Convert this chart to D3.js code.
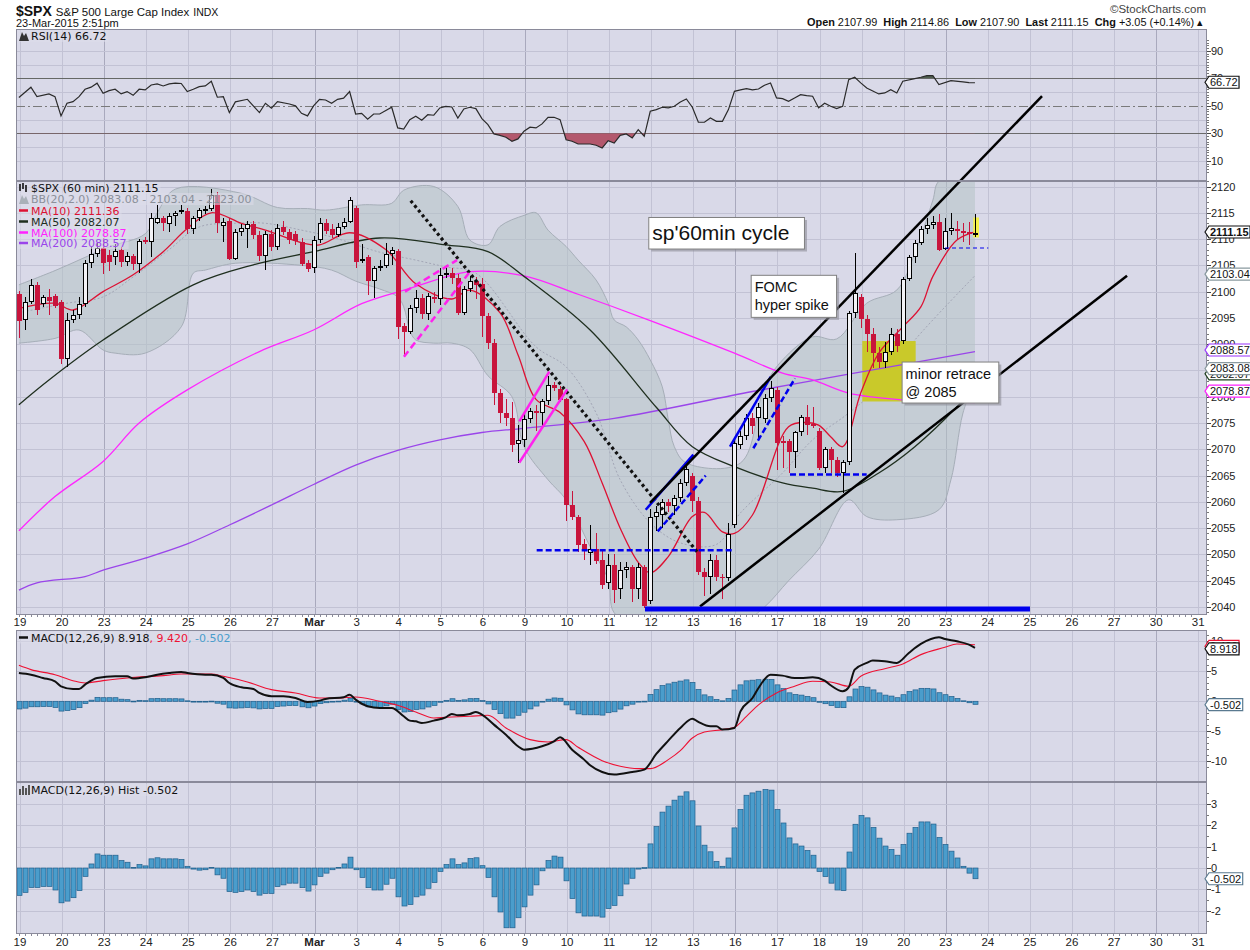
<!DOCTYPE html>
<html>
<head>
<meta charset="utf-8">
<title>$SPX 60 min</title>
<script src="https://cdnjs.cloudflare.com/ajax/libs/d3/7.8.5/d3.min.js"></script>
<style>
body { margin:0; background:#fff; }
svg { display:block; }
</style>
</head>
<body>
<svg id="chart" width="1250" height="950" font-family="DejaVu Sans, Verdana, sans-serif"></svg>
<script>
// ---------------- data ----------------
var dayLabels = ["19","20","23","24","25","26","27","Mar","3","4","5","6","9","10","11","12","13","16","17","18","19","20","23","24","25","26","27","30","31"];
var weekStarts = [2,7,12,17,22,27];
var priceTicks = [2040,2045,2050,2055,2060,2065,2070,2075,2080,2085,2090,2095,2100,2105,2110,2115,2120];
var rsiTicks = [90,70,50,30,10];
var macdTicks = [10,5,0,-5,-10];
var histTicks = [3,2,1,0,-1,-2];

// hourly bars [open, high, low, close]
var candles = [
 // Feb 19
 [2099.6,2100.2,2091.2,2094.5],[2094.6,2099.0,2092.7,2098.1],[2098.1,2102.4,2097.6,2101.3],[2101.3,2101.8,2095.6,2096.5],
 [2097.6,2099.3,2097.0,2098.9],[2099.0,2100.5,2095.5,2098.2],[2099.2,2099.6,2096.8,2097.3],
 // Feb 20
 [2098.1,2098.5,2086.2,2087.1],[2087.2,2095.9,2085.7,2094.6],[2094.6,2096.5,2094.0,2095.6],[2095.6,2099.0,2094.8,2097.6],
 [2097.6,2106.0,2097.0,2105.4],[2105.4,2108.5,2104.5,2107.2],[2107.2,2109.3,2106.5,2108.3],
 // Feb 23
 [2108.3,2110.2,2103.4,2105.5],[2107.0,2108.0,2104.0,2105.6],[2106.5,2109.0,2105.0,2107.8],[2108.0,2108.5,2104.7,2105.7],
 [2105.7,2107.5,2104.8,2106.8],[2106.8,2107.2,2104.1,2105.3],[2105.3,2110.0,2103.5,2109.7],
 // Feb 24
 [2109.9,2110.3,2109.0,2109.5],[2109.5,2115.0,2106.5,2114.0],[2113.0,2116.5,2112.8,2114.0],[2114.0,2114.3,2111.5,2113.0],
 [2112.8,2115.0,2111.3,2114.4],[2114.4,2115.3,2112.5,2115.0],[2115.2,2116.5,2114.8,2115.5],
 // Feb 25
 [2115.4,2116.0,2111.0,2112.0],[2112.0,2114.3,2111.0,2114.0],[2114.0,2116.0,2113.5,2115.5],[2115.3,2116.3,2114.8,2115.8],
 [2115.8,2119.5,2115.3,2118.4],[2118.4,2119.0,2111.1,2113.0],[2112.5,2114.0,2109.5,2113.3],
 // Feb 26
 [2113.5,2114.0,2106.0,2106.3],[2106.3,2112.0,2106.0,2111.4],[2111.4,2112.8,2110.5,2112.1],[2112.0,2113.5,2108.3,2112.9],
 [2112.8,2113.5,2110.0,2110.8],[2110.8,2111.5,2105.8,2106.8],[2106.8,2111.5,2104.1,2111.0],
 // Feb 27
 [2111.0,2111.8,2107.8,2108.5],[2108.5,2112.8,2108.0,2112.1],[2112.3,2113.5,2110.8,2111.3],[2111.3,2112.0,2109.0,2109.8],
 [2111.0,2111.5,2108.8,2109.6],[2109.5,2110.2,2104.8,2105.3],[2105.5,2106.0,2103.8,2104.3],
 // Mar 2
 [2104.5,2110.5,2103.5,2109.8],[2109.8,2114.0,2109.2,2113.0],[2113.0,2113.8,2111.0,2111.5],[2112.0,2112.8,2110.2,2110.8],
 [2110.8,2113.0,2110.3,2112.3],[2112.3,2114.0,2112.0,2113.2],[2113.2,2118.0,2113.0,2117.4],
 // Mar 3
 [2115.9,2116.3,2104.5,2105.7],[2106.0,2109.0,2105.5,2106.2],[2106.5,2107.0,2099.4,2102.1],[2102.1,2104.8,2098.7,2104.4],
 [2104.4,2106.0,2104.0,2104.8],[2104.8,2109.2,2104.5,2107.2],[2107.2,2108.5,2105.0,2107.9],
 // Mar 4
 [2107.8,2108.2,2091.0,2093.2],[2093.5,2094.0,2087.6,2092.4],[2092.4,2097.5,2092.0,2096.8],[2096.8,2100.3,2096.0,2098.7],
 [2098.7,2099.5,2094.8,2095.8],[2095.8,2099.8,2094.6,2099.2],[2099.0,2100.0,2097.8,2098.6],
 // Mar 5
 [2098.6,2104.4,2097.5,2103.2],[2103.2,2105.0,2102.5,2103.6],[2103.6,2104.5,2101.5,2102.5],[2102.5,2103.4,2095.5,2096.0],
 [2096.0,2101.0,2095.5,2100.5],[2100.5,2103.0,2100.0,2102.1],[2102.1,2102.8,2098.6,2101.2],
 // Mar 6
 [2101.5,2102.5,2091.4,2095.3],[2095.3,2096.0,2089.0,2090.2],[2090.2,2091.0,2078.5,2080.7],[2080.7,2081.5,2075.0,2076.9],
 [2077.0,2079.5,2074.5,2076.0],[2076.0,2079.0,2069.4,2070.9],[2071.0,2074.6,2067.4,2071.8],
 // Mar 9
 [2071.8,2076.8,2070.5,2075.7],[2075.7,2077.8,2075.0,2077.3],[2077.3,2078.5,2073.5,2076.9],[2076.9,2079.5,2074.0,2079.1],
 [2079.1,2084.0,2078.5,2082.3],[2082.3,2082.8,2081.0,2081.6],[2081.5,2082.0,2079.0,2079.4],
 // Mar 10
 [2079.5,2079.8,2056.3,2059.5],[2059.5,2062.0,2056.5,2057.2],[2057.2,2057.5,2050.5,2051.8],[2052.0,2053.0,2049.0,2050.6],
 [2050.3,2055.6,2048.0,2051.0],[2051.0,2054.0,2048.2,2048.7],[2048.9,2051.0,2043.5,2044.1],
 // Mar 11
 [2044.6,2050.0,2043.5,2048.0],[2048.0,2050.0,2040.8,2043.3],[2043.4,2048.5,2041.5,2047.1],[2047.0,2048.5,2045.5,2047.6],
 [2047.6,2048.0,2041.0,2043.5],[2043.4,2048.3,2041.5,2047.6],[2047.6,2048.0,2039.8,2040.1],
 // Mar 12
 [2041.1,2058.7,2040.5,2057.2],[2057.2,2059.2,2054.5,2058.0],[2057.5,2060.5,2055.0,2059.9],[2059.9,2060.5,2058.0,2059.2],
 [2059.2,2061.3,2057.5,2060.7],[2060.7,2064.3,2060.0,2063.6],[2063.6,2067.0,2063.0,2066.2],
 // Mar 13
 [2065.0,2065.5,2058.0,2060.1],[2060.1,2061.0,2046.0,2046.6],[2046.6,2047.5,2042.0,2045.7],[2045.7,2050.0,2042.5,2049.0],
 [2049.0,2049.8,2045.0,2045.7],[2045.8,2046.2,2041.5,2045.5],[2045.5,2056.0,2045.0,2053.8],
 // Mar 16
 [2055.6,2072.0,2055.0,2071.2],[2070.9,2073.5,2070.0,2072.6],[2072.6,2076.8,2071.8,2075.9],[2075.9,2077.0,2073.0,2074.5],
 [2075.9,2078.8,2072.0,2078.1],[2075.7,2080.5,2075.0,2079.7],[2079.7,2083.0,2079.0,2081.6],
 // Mar 17
 [2081.2,2081.8,2066.0,2071.2],[2071.5,2072.5,2066.5,2071.2],[2071.5,2072.0,2065.5,2069.4],[2069.4,2073.5,2066.5,2073.2],
 [2073.2,2076.5,2072.5,2076.1],[2076.1,2078.5,2072.8,2074.6],[2074.8,2078.0,2074.0,2074.4],
 // Mar 18
 [2073.4,2074.0,2066.0,2066.4],[2066.4,2070.5,2065.5,2070.0],[2070.0,2070.5,2065.5,2068.0],[2068.0,2068.5,2064.8,2065.5],
 [2065.5,2068.0,2061.7,2067.5],[2067.5,2096.3,2067.0,2095.9],[2095.9,2107.3,2095.0,2099.7],
 // Mar 19
 [2099.0,2099.5,2093.0,2094.8],[2094.8,2095.5,2088.5,2092.0],[2092.0,2093.0,2085.5,2088.3],[2088.3,2089.5,2085.5,2086.6],
 [2086.6,2090.5,2085.5,2088.6],[2088.6,2093.0,2088.0,2092.0],[2092.0,2092.8,2088.5,2089.6],
 // Mar 20
 [2090.7,2102.8,2090.0,2102.4],[2102.4,2107.0,2102.0,2106.5],[2106.5,2109.8,2105.5,2109.2],[2109.2,2112.5,2108.8,2111.9],
 [2111.9,2114.0,2111.0,2112.7],[2112.7,2114.3,2112.0,2113.3],[2113.3,2114.8,2107.8,2108.0],
 // Mar 23
 [2108.1,2114.0,2107.9,2111.6],[2111.6,2115.0,2110.8,2112.1],[2112.0,2113.5,2109.8,2111.6],[2111.6,2113.0,2109.5,2111.2],
 [2111.4,2113.2,2108.8,2110.9],[2110.9,2114.86,2110.3,2111.15]
];

// overlays: [bar, value]
var ma10 = [[0,2096.8],[6,2097.8],[9,2096.5],[14,2100],[19,2103.2],[24,2107.6],[28,2112],[32,2115],[37,2113],[41,2111.7],[47,2109.3],[50,2108.9],[55,2111.2],[61,2108],[66,2101.5],[72,2098.6],[75,2100.3],[80,2096],[83,2088],[86,2079.5],[90,2077],[94,2071.5],[97,2063.6],[100,2055],[103,2048.5],[105,2046.5],[108,2049.6],[112,2057.2],[114,2058],[117,2054.3],[119,2054],[122,2057.5],[128,2074.3],[131,2075.1],[133,2074.6],[135,2072.4],[137,2070.5],[140,2080.7],[143,2088.3],[147,2093.3],[150,2097.1],[152,2102.9],[156,2109.8],[159,2111.36]];
var ma50 = [[0,2078.5],[5,2083.2],[14,2090.8],[29,2101.3],[39,2105.1],[49,2107.6],[60,2110.2],[71,2108.9],[78,2107.6],[84,2102.9],[95,2092.7],[106,2078],[112,2070.5],[119,2066.7],[127,2063.6],[132,2062.6],[137,2062],[143,2065.5],[149,2070.5],[156,2078.1],[159,2082.07]];
var ma100 = [[0,2054.5],[6,2061],[14,2067.7],[20,2075],[28,2081.3],[40,2088.6],[49,2092.7],[57,2097.7],[65,2100.6],[75,2103.8],[84,2103],[93,2099.5],[105,2094.5],[119,2088.3],[127,2084.5],[132,2083.2],[138,2080.7],[147,2079.4],[159,2078.87]];
var ma200 = [[0,2043.2],[3,2044.6],[11,2045.8],[14,2047],[21,2049.3],[28,2052],[35,2055.6],[42,2059.4],[49,2063.3],[56,2067],[63,2069.8],[70,2071.8],[77,2073.2],[84,2074],[99,2075.9],[122,2081],[138,2084.3],[159,2088.57]];
var bbUpper = [[0,2101.3],[6,2104],[15,2108.5],[21,2111],[23,2115],[26,2119.5],[37,2118.7],[43,2116],[48,2115.8],[51,2115.5],[57,2116.5],[62,2116.8],[64,2119.3],[69,2120],[73,2116.2],[75,2109.8],[78,2108.9],[80,2112.4],[84,2114.5],[86,2115],[88,2111.7],[91,2108.6],[93,2106],[96,2102.2],[98,2097.8],[99,2094.6],[101,2093.3],[103,2090.8],[105,2087],[107,2081.9],[108,2075.6],[109,2070.5],[111,2067.4],[120,2067.4],[124,2081.9],[127,2087],[132,2091.4],[136,2091],[141,2097.8],[146,2100.3],[149,2107.3],[152,2117.4],[153,2121],[159,2123]];
var bbLower = [[0,2090.2],[6,2091.1],[10,2092.7],[14,2088.9],[16,2088.3],[21,2088.3],[27,2093.3],[29,2103.5],[31,2104.1],[36,2105.4],[47,2105],[52,2104.1],[56,2102],[60,2100.5],[63,2099],[64,2097.1],[65,2092.7],[66,2090.8],[69,2090.2],[72,2090.2],[75,2089],[78,2084],[82,2080],[84,2070.5],[88,2064.2],[91,2060.4],[95,2051.5],[98,2045.2],[99,2038.9],[104,2036],[112,2035],[119,2036],[124,2040],[128,2045],[133,2051],[138,2060.4],[141,2057.2],[146,2056.6],[153,2058.5],[155,2064.2],[157,2076.9],[159,2083.08]];
var bbMid = [[0,2096],[8,2097.8],[14,2099],[19,2102.8],[25,2108],[30,2112.3],[36,2113],[41,2113],[47,2111.7],[52,2110.4],[60,2107.5],[66,2106],[71,2104.7],[76,2103.5],[86,2089.5],[91,2085.7],[96,2076.9],[100,2064.2],[105,2056],[110,2052.2],[116,2051.9],[120,2057.9],[127,2065.5],[132,2071.8],[138,2076.9],[143,2081.9],[149,2090.8],[159,2103.04]];

// RSI(14) [bar, value]
var rsi = [[0,56],[2,63.5],[3,56.6],[5,58.6],[6,56.6],[7,42.6],[8,51.8],[9,53],[10,56.6],[11,62],[12,63.5],[13,66.4],[14,59.1],[15,61],[16,62],[17,58.6],[18,60.3],[19,57.6],[20,62],[21,61.5],[22,65.1],[23,65.9],[24,64.4],[25,65.9],[26,66.4],[27,66.2],[28,60.3],[29,62],[30,63.9],[31,64.4],[32,67.8],[33,56.2],[34,56.6],[35,45],[36,52.8],[38,54.7],[40,45],[41,51.8],[42,48.2],[43,53],[45,51.3],[46,49.9],[47,44.5],[48,42.6],[49,49.9],[50,54.7],[51,54.2],[52,51.8],[53,54.7],[54,55.5],[55,60.3],[56,44],[57,44.5],[58,40.2],[59,44],[60,44],[62,48.9],[63,33.9],[64,33.1],[65,39.9],[66,42.4],[67,39.5],[68,43.5],[69,43.1],[70,48.4],[71,49.6],[72,49.1],[73,41.1],[74,47.7],[75,48.9],[76,47.9],[77,40.6],[78,36.3],[79,29.5],[80,28.5],[81,27.1],[82,24.2],[83,25.9],[84,31.5],[85,34.4],[86,33.9],[87,36.8],[88,41.6],[89,41.6],[90,39.9],[91,25.3],[92,24.2],[93,22.2],[94,22.2],[95,22.2],[96,21.3],[97,19.3],[98,24.6],[99,22.9],[100,28.5],[101,29.5],[102,26.6],[103,32.6],[104,27.8],[105,46],[106,47.2],[107,48.9],[108,48.4],[109,49.6],[110,52.8],[111,54.9],[112,48.9],[113,38],[114,38],[115,41.1],[116,38.7],[117,38.7],[118,47.2],[119,60.5],[120,61.5],[121,62.4],[122,61.5],[123,62.2],[124,64.9],[125,66.6],[126,55.7],[127,55.2],[128,53.3],[129,55.7],[130,58.1],[131,57.3],[132,56.9],[133,48.4],[134,51.8],[135,49.6],[136,47.9],[137,49.6],[138,69],[139,70.7],[140,66.6],[141,62.9],[143,58.6],[144,59.3],[145,61.7],[146,59.3],[147,67.8],[149,69.7],[150,70.7],[151,71.9],[152,71.9],[153,65.4],[155,68.3],[157,67.3],[158,66.8],[159,66.72]];

// MACD(12,26,9) line and signal [bar, value]
var macdLine = [[0,4.72],[2,4.44],[4,3.89],[6,3.33],[7,2.5],[9,2.05],[10,2.05],[11,2.78],[13,3.89],[16,4.17],[18,4.17],[19,3.78],[21,4.0],[23,4.44],[25,4.72],[27,4.89],[28,4.72],[31,4.44],[32,4.44],[34,3.89],[35,3.05],[37,2.33],[39,2.05],[40,1.39],[42,0.83],[44,0.83],[46,0.55],[48,-0.11],[50,0.11],[51,0.39],[54,0.67],[55,1.11],[56,0.28],[58,-0.83],[60,-1.11],[62,-1.11],[64,-2.5],[65,-3.22],[66,-3.33],[67,-3.61],[69,-3.22],[71,-2.67],[72,-2.11],[73,-2.33],[75,-2.11],[76,-1.78],[77,-2.22],[79,-3.89],[81,-5.56],[83,-7.5],[84,-8.06],[87,-7.5],[89,-6.67],[90,-6.0],[92,-8.06],[94,-9.72],[95,-10.67],[97,-11.78],[99,-12.22],[102,-11.78],[104,-11.39],[106,-8.78],[108,-6.56],[110,-4.44],[112,-2.89],[113,-3.44],[115,-4.17],[116,-4.17],[117,-4.72],[119,-4.44],[120,-1.67],[122,0.55],[123,2.22],[125,4.44],[127,4.28],[129,3.89],[130,3.89],[132,4.0],[134,3.44],[135,2.67],[137,1.67],[138,2.33],[139,5.28],[141,6.39],[142,6.78],[144,6.67],[146,6.39],[148,8.06],[150,9.56],[153,10.67],[154,10.39],[156,10.0],[158,9.44],[159,8.918]];
var macdSignal = [[0,6.0],[2,5.28],[6,4.44],[9,3.44],[11,3.05],[14,3.44],[18,3.89],[24,4.28],[27,4.55],[32,4.55],[34,4.17],[38,3.22],[42,1.94],[46,1.39],[50,0.55],[53,0.55],[56,0.72],[60,0],[63,-0.67],[66,-1.78],[69,-2.78],[71,-2.67],[75,-2.5],[78,-2.33],[81,-4.44],[85,-6.39],[88,-6.78],[91,-6.39],[93,-7.67],[97,-9.89],[100,-10.83],[103,-11.22],[105,-11.22],[108,-9.72],[110,-8.22],[112,-6.11],[114,-5.11],[117,-4.72],[119,-4.33],[121,-2.5],[123,-0.6],[126,1.39],[129,2.5],[132,3.33],[135,3.22],[138,2.5],[140,4.17],[144,5.44],[147,6.22],[150,7.78],[154,9.0],[156,9.56],[159,9.42]];
// MACD histogram, one value per bar
var macdHist = [
 -1.28,-1.14,-0.91,-0.91,-0.86,-0.86,-1.03,
 -1.63,-1.55,-1.39,-1.06,-0.39,0.19,0.66,
 0.6,0.6,0.6,0.35,0.27,0.03,0.16,
 0.1,0.43,0.48,0.43,0.43,0.43,0.4,
 0.08,-0.05,-0.1,-0.08,0.03,-0.32,-0.48,
 -1.1,-1.14,-1.1,-1.03,-1.1,-1.27,-1.19,
 -1.19,-0.87,-0.79,-0.71,-0.71,-0.92,-1.08,
 -0.79,-0.39,-0.24,-0.08,0.03,0.19,0.51,
 -0.08,-0.44,-0.92,-1.03,-1.03,-0.76,-0.48,
 -1.35,-1.78,-1.71,-1.35,-1.27,-0.95,-0.68,
 -0.16,0.16,0.43,0.16,0.24,0.44,0.48,
 0.11,-0.44,-1.35,-2.06,-2.8,-2.8,-2.33,
 -1.82,-1.27,-0.79,-0.13,0.35,0.56,0.51,
 -0.6,-1.43,-2.1,-2.25,-2.25,-2.25,-2.3,
 -1.9,-1.75,-1.3,-0.75,-0.48,-0.05,0.02,
 1.13,1.94,2.62,2.9,3.18,3.37,3.57,
 3.15,1.97,1.07,0.76,0.31,0.08,0.47,
 1.88,2.74,3.41,3.52,3.6,3.68,3.65,
 2.74,2.11,1.41,1.13,1.03,0.82,0.6,
 -0.16,-0.4,-0.71,-1.03,-1.06,0.75,2.05,
 2.46,2.35,1.9,1.4,1.03,0.87,0.6,
 1.1,1.63,1.9,2.16,2.16,2.06,1.43,
 1.1,0.79,0.47,0.08,-0.24,-0.502
];

// hand-drawn annotations in [bar, price] units
var trendSegments = [
 [65.16,2117.3,112.94,2050.3,"dots"],
 [64.21,2100.0,72.86,2106.0,"pinkDash"],
 [64.04,2087.6,75.02,2103.8,"pinkDash"],
 [83.22,2067.5,91.20,2081.4,"pink"],
 [83.22,2075.3,88.21,2084.8,"pink"],
 [86.11,2050.8,118.81,2050.8,"blueDash"],
 [104.24,2058.5,112.16,2069.0,"blue"],
 [106.24,2054.4,114.22,2065.0,"blueDash"],
 [113.27,2040.1,184.29,2103.0,"black"],
 [118.26,2070.5,125.03,2083.8,"blue"],
 [122.14,2070.2,129.07,2083.5,"blueDash"],
 [128.24,2065.2,140.99,2065.2,"blueDash"],
 [154.02,2108.3,161.22,2108.3,"blueThin"],
 [104.12,2039.6,168.15,2039.6,"blueThick"]
];
var channelTop = [104.96,2059.8,170.15,2137.2];
var retraceZone = [140.26,2090.6,149.14,2079.1];
var lastBarMark = [158.72,2114.1,159.67,2110.3];
var notes = [
 {lines:["sp'60min cycle"], b0:104.67, p0:2114.2, b1:130.56, p1:2108.2},
 {lines:["FOMC","hyper spike"], b0:121.7, p0:2103.2, b1:135.9, p1:2095.2},
 {lines:["minor retrace","@ 2085"], b0:146.8, p0:2086.7, b1:162.88, p1:2078.9}
];

// ---------------- layout ----------------
var svg = d3.select("#chart");
var defs = svg.append("defs");
var PL = 16, PR = 1207;
var P = {rsi:[29,181], main:[181,615], macd:[630,782], hist:[782,934]};
var axisFont = "Liberation Sans, Arial, sans-serif";

var x = d3.scaleLinear().domain([0,159]).range([18.9, 18.9 + 6.013*159]);
var xDay = d3.scaleLinear().domain([0,28]).range([20, 20 + 42.08*28]);
var yR = d3.scaleLinear().domain([0,100]).range([174.5,37]);
var yP = d3.scaleLinear().domain([2040,2120]).range([607,186.5]);
var yM = d3.scaleLinear().domain([-10,5]).range([761.3,671.3]);
var yH = d3.scaleLinear().domain([-2,3]).range([910.7,804]);

function clipRect(id, x0, y0, x1, y1){
  defs.append("clipPath").attr("id", id).append("rect")
    .attr("x", x0).attr("y", y0).attr("width", x1 - x0).attr("height", y1 - y0);
}

// panel backgrounds + grids
Object.keys(P).forEach(function(k){
  var t = P[k][0], b = P[k][1];
  clipRect("clip-" + k, PL, t, PR, b);
  svg.append("rect").attr("x",PL).attr("y",t).attr("width",PR-PL).attr("height",b-t).attr("fill","#d9d9e8");
  svg.append("g").attr("shape-rendering","crispEdges").selectAll("line").data(d3.range(0,29)).enter().append("line")
    .attr("x1", function(d){ return Math.round(xDay(d)) + 0.5; })
    .attr("x2", function(d){ return Math.round(xDay(d)) + 0.5; })
    .attr("y1", t).attr("y2", b)
    .attr("stroke", function(d){ return weekStarts.indexOf(d) >= 0 ? "#a9a9bd" : "#c2c2d4"; });
});

function hGrid(vals, ys, color, dash){
  svg.append("g").attr("shape-rendering","crispEdges").selectAll("line").data(vals).enter().append("line")
    .attr("x1",PL).attr("x2",PR)
    .attr("y1", function(d){ return Math.round(ys(d)) + 0.5; })
    .attr("y2", function(d){ return Math.round(ys(d)) + 0.5; })
    .attr("stroke", color).attr("stroke-dasharray", dash || null);
}
hGrid([10,20,40,60,80,90], yR, "#c2c2d4");
hGrid([70,30], yR, "#6a6a6a");
hGrid([50], yR, "#7a7a7a", "9,3,2,3");
hGrid(priceTicks, yP, "#c2c2d4");
hGrid(macdTicks, yM, "#c2c2d4");
hGrid(histTicks, yH, "#c2c2d4");

// ---------------- RSI panel ----------------
var rsiLine = d3.line().x(function(d){ return x(d[0]); }).y(function(d){ return yR(d[1]); });
clipRect("clip-rsiLow", PL, yR(30), PR, P.rsi[1]);
clipRect("clip-rsiHigh", PL, P.rsi[0], PR, yR(70));
svg.append("path").datum(rsi).attr("clip-path","url(#clip-rsiLow)")
  .attr("d", d3.area().x(function(d){ return x(d[0]); }).y0(yR(30)).y1(function(d){ return yR(d[1]); }))
  .attr("fill","#b3586d");
svg.append("path").datum(rsi).attr("clip-path","url(#clip-rsiHigh)")
  .attr("d", d3.area().x(function(d){ return x(d[0]); }).y0(yR(70)).y1(function(d){ return yR(d[1]); }))
  .attr("fill","#4f5f4f");
svg.append("path").datum(rsi).attr("d", rsiLine).attr("fill","none").attr("stroke","#2a2a2a").attr("stroke-width",1.2);

// ---------------- price panel ----------------
var mainG = svg.append("g").attr("clip-path","url(#clip-main)");
var curve = d3.curveCatmullRom.alpha(0.5);
function ovl(ys){ return d3.line().x(function(d){ return x(d[0]); }).y(function(d){ return ys(d[1]); }).curve(curve); }
var upPath = ovl(yP)(bbUpper);
var loPath = ovl(yP)(bbLower.slice().reverse());
mainG.append("path").attr("d", upPath + "L" + loPath.slice(1) + "Z").attr("fill","#b5c2c5").attr("fill-opacity",0.55);
mainG.append("path").attr("d", upPath).attr("fill","none").attr("stroke","#a6aeb8");
mainG.append("path").attr("d", ovl(yP)(bbLower)).attr("fill","none").attr("stroke","#a6aeb8");
mainG.append("path").attr("d", ovl(yP)(bbMid)).attr("fill","none").attr("stroke","#a3a6b6").attr("stroke-dasharray","2,2");

mainG.append("rect").attr("x", x(retraceZone[0])).attr("y", yP(retraceZone[1]))
  .attr("width", x(retraceZone[2]) - x(retraceZone[0])).attr("height", yP(retraceZone[3]) - yP(retraceZone[1]))
  .attr("fill","#c9c92a");

[[ma200,"#9a45ea"],[ma100,"#ff26ff"],[ma50,"#1f2f1f"],[ma10,"#dd1133"]].forEach(function(m){
  mainG.append("path").attr("d", ovl(yP)(m[0])).attr("fill","none").attr("stroke",m[1]).attr("stroke-width",1.3);
});

mainG.append("rect").attr("x", x(lastBarMark[0])).attr("y", yP(lastBarMark[1]))
  .attr("width", x(lastBarMark[2]) - x(lastBarMark[0])).attr("height", yP(lastBarMark[3]) - yP(lastBarMark[1]))
  .attr("fill","#f4f24a");

// candles
var candleG = mainG.append("g").attr("shape-rendering","crispEdges");
candleG.selectAll("g").data(candles).enter().append("g").each(function(d, i){
  var g = d3.select(this);
  var o = d[0], h = d[1], l = d[2], c = d[3];
  var up = c >= o;
  var cx = Math.round(x(i)) + 0.5;
  var top = Math.round(yP(Math.max(o,c))), bot = Math.round(yP(Math.min(o,c)));
  if (bot - top < 1) bot = top + 1;
  var col = up ? "#000" : "#c8143c";
  g.append("line").attr("x1",cx).attr("x2",cx).attr("y1",yP(h)).attr("y2",top).attr("stroke",col);
  g.append("line").attr("x1",cx).attr("x2",cx).attr("y1",bot).attr("y2",yP(l)).attr("stroke",col);
  if (up) {
    g.append("rect").attr("x",cx-2).attr("y",top+0.5).attr("width",4).attr("height",Math.max(bot-top-1,0.5))
      .attr("fill","#f2f2f6").attr("stroke","#000");
  } else {
    g.append("rect").attr("x",cx-2.5).attr("y",top).attr("width",5).attr("height",bot-top).attr("fill",col);
  }
});

// annotations
var segStyle = {
  dots:{c:"#111",w:3.2,d:"3,3"}, pinkDash:{c:"#ff22ee",w:2.5,d:"7,4"}, pink:{c:"#ff22ee",w:2.5,d:null},
  blueDash:{c:"#0000ee",w:2.5,d:"6,3"}, blue:{c:"#0000ee",w:2.5,d:null}, black:{c:"#000",w:2.5,d:null},
  blueThin:{c:"#0000ee",w:1.2,d:"4,3"}, blueThick:{c:"#0000ee",w:5,d:null}
};
mainG.selectAll(".seg").data(trendSegments).enter().append("line")
  .attr("x1", function(d){ return x(d[0]); }).attr("y1", function(d){ return yP(d[1]); })
  .attr("x2", function(d){ return x(d[2]); }).attr("y2", function(d){ return yP(d[3]); })
  .attr("stroke", function(d){ return segStyle[d[4]].c; })
  .attr("stroke-width", function(d){ return segStyle[d[4]].w; })
  .attr("stroke-dasharray", function(d){ return segStyle[d[4]].d; });
svg.append("line").attr("x1", x(channelTop[0])).attr("y1", yP(channelTop[1]))
  .attr("x2", x(channelTop[2])).attr("y2", yP(channelTop[3]))
  .attr("stroke","#000").attr("stroke-width",2.5);

// note boxes
var noteSize = [21, 14.5, 14.5];
notes.forEach(function(n, k){
  var bx = x(n.b0), by = yP(n.p0), bw = x(n.b1) - bx, bh = yP(n.p1) - by;
  svg.append("rect").attr("x",bx+3).attr("y",by+3).attr("width",bw).attr("height",bh).attr("fill","#8c8c96").attr("opacity",0.6);
  svg.append("rect").attr("x",bx+0.5).attr("y",by+0.5).attr("width",bw).attr("height",bh).attr("fill","#fff").attr("stroke","#808080");
  n.lines.forEach(function(t, j){
    svg.append("text").attr("x", bx + 4).attr("y", by + (k === 0 ? 23 : 17.5 + j*18))
      .attr("font-family",axisFont).attr("font-size", noteSize[k]).attr("fill","#111").text(t);
  });
});

// ---------------- MACD panel ----------------
var macdG = svg.append("g").attr("clip-path","url(#clip-macd)");
function histBars(g, ys){
  g.selectAll("rect").data(macdHist).enter().append("rect")
    .attr("x", function(d,i){ return Math.round(x(i)) - 2; })
    .attr("y", function(d){ return Math.min(ys(d), ys(0)); })
    .attr("width", 5)
    .attr("height", function(d){ return Math.max(Math.abs(ys(d) - ys(0)), 0.8); })
    .attr("fill","#4a9dcc").attr("stroke","#1f5d8a").attr("stroke-width",0.7);
}
histBars(macdG, yM);
function pl(ys){ return d3.line().x(function(d){ return x(d[0]); }).y(function(d){ return ys(d[1]); }).curve(d3.curveMonotoneX); }
macdG.append("path").datum(macdSignal).attr("d", pl(yM)).attr("fill","none").attr("stroke","#ee1133").attr("stroke-width",1.1);
macdG.append("path").datum(macdLine).attr("d", pl(yM)).attr("fill","none").attr("stroke","#111").attr("stroke-width",2);

var histG = svg.append("g").attr("clip-path","url(#clip-hist)");
histBars(histG, yH);

// ---------------- borders ----------------
var bord = svg.append("g").attr("shape-rendering","crispEdges").attr("fill","none").attr("stroke","#8a8a9a");
Object.keys(P).forEach(function(k){
  bord.append("rect").attr("x",PL+0.5).attr("y",P[k][0]+0.5).attr("width",PR-PL-1).attr("height",P[k][1]-P[k][0]-1);
});

// ---------------- axes ----------------
function rightAxis(vals, ys, minor){
  var g = svg.append("g").attr("shape-rendering","crispEdges");
  if (minor) {
    g.selectAll(".mn").data(minor).enter().append("line")
      .attr("x1",PR).attr("x2",PR+2).attr("y1",function(d){ return Math.round(ys(d))+0.5; }).attr("y2",function(d){ return Math.round(ys(d))+0.5; })
      .attr("stroke","#777");
  }
  g.selectAll(".mj").data(vals).enter().append("line")
    .attr("x1",PR).attr("x2",PR+4).attr("y1",function(d){ return Math.round(ys(d))+0.5; }).attr("y2",function(d){ return Math.round(ys(d))+0.5; })
    .attr("stroke","#444");
  svg.append("g").selectAll("text").data(vals).enter().append("text")
    .attr("x",PR+4).attr("y",function(d){ return ys(d) + 4; })
    .attr("font-family",axisFont).attr("font-size",11).attr("fill","#222").text(function(d){ return d; });
}
rightAxis(priceTicks, yP, d3.range(2039,2122,1));
rightAxis(rsiTicks, yR, d3.range(2,100,2));
rightAxis(macdTicks, yM, d3.range(-11,12,1));
rightAxis(histTicks, yH, d3.range(-2.5,3.6,0.5));

function dateAxis(yBase, yTick){
  var g = svg.append("g").attr("shape-rendering","crispEdges");
  g.selectAll("line").data(d3.range(0,196)).enter().append("line")
    .attr("x1",function(d){ return Math.round(x(d))+0.5; }).attr("x2",function(d){ return Math.round(x(d))+0.5; })
    .attr("y1",yTick).attr("y2",yTick+2).attr("stroke","#8a8a9a");
  svg.append("g").selectAll("text").data(dayLabels).enter().append("text")
    .attr("x",function(d,i){ return xDay(i); }).attr("y",yBase)
    .attr("text-anchor","middle").attr("font-family",axisFont).attr("font-size",11.5)
    .attr("font-weight",function(d){ return d === "Mar" ? "bold" : null; })
    .attr("fill","#222").text(function(d){ return d; });
}
dateAxis(626, P.main[1]);
dateAxis(946, P.hist[1]);

// value tags on right axis
function tag(yv, txt, color, bold){
  var g = svg.append("g").attr("transform","translate(" + (PR - 2) + "," + yv + ")");
  var t = g.append("text").attr("x",5).attr("y",3.8).attr("font-family",axisFont).attr("font-size",11)
    .attr("font-weight", bold ? "bold" : null).attr("fill","#111").text(txt);
  var w = t.node().getComputedTextLength();
  g.insert("path","text").attr("d","M0,0 L4,-6 H" + (6.5+w) + " V6 H4 Z").attr("fill","#fff").attr("stroke",color).attr("stroke-width",1.2);
}
tag(yR(66.72) - 0.5, "66.72", "#111", false);
tag(yP(2111.15) - 1, "2111.15", "#111", true);
tag(yP(2103.04) - 1.5, "2103.04", "#8a9aa0", false);
tag(yP(2088.57) - 1.7, "2088.57", "#9933ff", false);
tag(yP(2082.07) - 12, "2082.07", "#1f3f1f", false);
tag(yP(2083.08) - 12, "2083.08", "#8a9aa0", false);
tag(yP(2078.87) - 11.5, "2078.87", "#ff22ff", false);
tag(yM(9.42) + 1.5, "9.420", "#ee1133", false);
tag(yM(8.918) + 1, "8.918", "#111", false);
tag(yM(-0.502) + 0.4, "-0.502", "#5a7a90", false);
tag(yH(-0.502), "-0.502", "#5a7a90", false);

// ---------------- legends ----------------
function legendLine(y, parts, icon){
  var t = svg.append("text").attr("x",31).attr("y",y).attr("font-size",11);
  parts.forEach(function(p){ t.append("tspan").attr("fill",p[1]).text(p[0]); });
  var w = t.node().getComputedTextLength();
  svg.insert("rect", function(){ return t.node(); }).attr("x",17).attr("y",y-10).attr("width",w+16).attr("height",12)
    .attr("fill","#dcdce9").attr("opacity",0.55);
  if (icon) icon(y);
}
function dash(color){ return function(y){ svg.append("line").attr("x1",19).attr("x2",28).attr("y1",y-4).attr("y2",y-4).attr("stroke",color).attr("stroke-width",2.5); }; }
function mountain(color){ return function(y){ svg.append("path").attr("d","M19," + (y+1) + " L22," + (y-8) + " L24," + (y-4) + " L26," + (y-7) + " L29," + (y+1) + " Z").attr("fill",color); }; }
function candleIcon(y){
  [[20,-8,-1],[23,-9,-3],[26,-7,0]].forEach(function(c){
    svg.append("line").attr("x1",c[0]).attr("x2",c[0]).attr("y1",y+c[1]).attr("y2",y+c[2]).attr("stroke","#111").attr("stroke-width",1.6);
  });
}
function barIcon(y){
  [[19,-5],[22,-8],[25,-6],[28,-9]].forEach(function(c){
    svg.append("rect").attr("x",c[0]).attr("y",y+c[1]).attr("width",2).attr("height",-c[1]+1).attr("fill","#555");
  });
}

legendLine(40, [["RSI(14) 66.72","#111"]], mountain("#333"));
legendLine(192, [["$SPX (60 min) 2111.15","#111"]], candleIcon);
legendLine(203, [["BB(20,2.0) 2083.08 - 2103.04 - 2123.00","#8b909a"]], mountain("#a9b0b8"));
legendLine(214.5, [["MA(10) 2111.36","#dd1133"]], dash("#dd1133"));
legendLine(225.5, [["MA(50) 2082.07","#1f2f1f"]], dash("#1f2f1f"));
legendLine(236.5, [["MA(100) 2078.87","#ff22ff"]], dash("#ff22ff"));
legendLine(247, [["MA(200) 2088.57","#9a45ea"]], dash("#9a45ea"));
legendLine(641.5, [["MACD(12,26,9) 8.918","#111"],[", 9.420","#ee1133"],[", -0.502","#4a9dcc"]], dash("#111"));
legendLine(794, [["MACD(12,26,9) Hist -0.502","#111"]], barIcon);

// ---------------- header ----------------
var sym = svg.append("text").attr("x",16).attr("y",16).attr("font-family",axisFont).attr("font-weight","bold").attr("font-size",14).attr("fill","#111").text("$SPX");
var symEnd = 16 + sym.node().getComputedTextLength();
var nm = svg.append("text").attr("x",symEnd + 4).attr("y",16).attr("font-family",axisFont).attr("font-size",11.5).attr("fill","#111").text("S&P 500 Large Cap Index");
svg.append("text").attr("x",symEnd + 8 + nm.node().getComputedTextLength()).attr("y",16).attr("font-family",axisFont).attr("font-size",10.5).attr("fill","#111").text("INDX");
svg.append("text").attr("x",16).attr("y",27).attr("font-family",axisFont).attr("font-size",11).attr("fill","#111").text("23-Mar-2015 2:51pm");
svg.append("text").attr("x",1206).attr("y",13).attr("text-anchor","end").attr("font-family",axisFont).attr("font-size",11.5).attr("fill","#444").text("\u00a9StockCharts.com");
var ohlc = svg.append("text").attr("x",1203).attr("y",26).attr("text-anchor","end").attr("font-family",axisFont).attr("font-size",11).attr("fill","#111")
  .attr("textLength",396).attr("lengthAdjust","spacingAndGlyphs");
[["Open",1],[" 2107.99  ",0],["High",1],[" 2114.86  ",0],["Low",1],[" 2107.90  ",0],["Last",1],[" 2111.15  ",0],["Chg",1],[" +3.05 (+0.14%) \u25b4",0]].forEach(function(p){
  ohlc.append("tspan").attr("font-weight", p[1] ? "bold" : null).attr("xml:space","preserve").text(p[0]);
});
</script>
</body>
</html>
